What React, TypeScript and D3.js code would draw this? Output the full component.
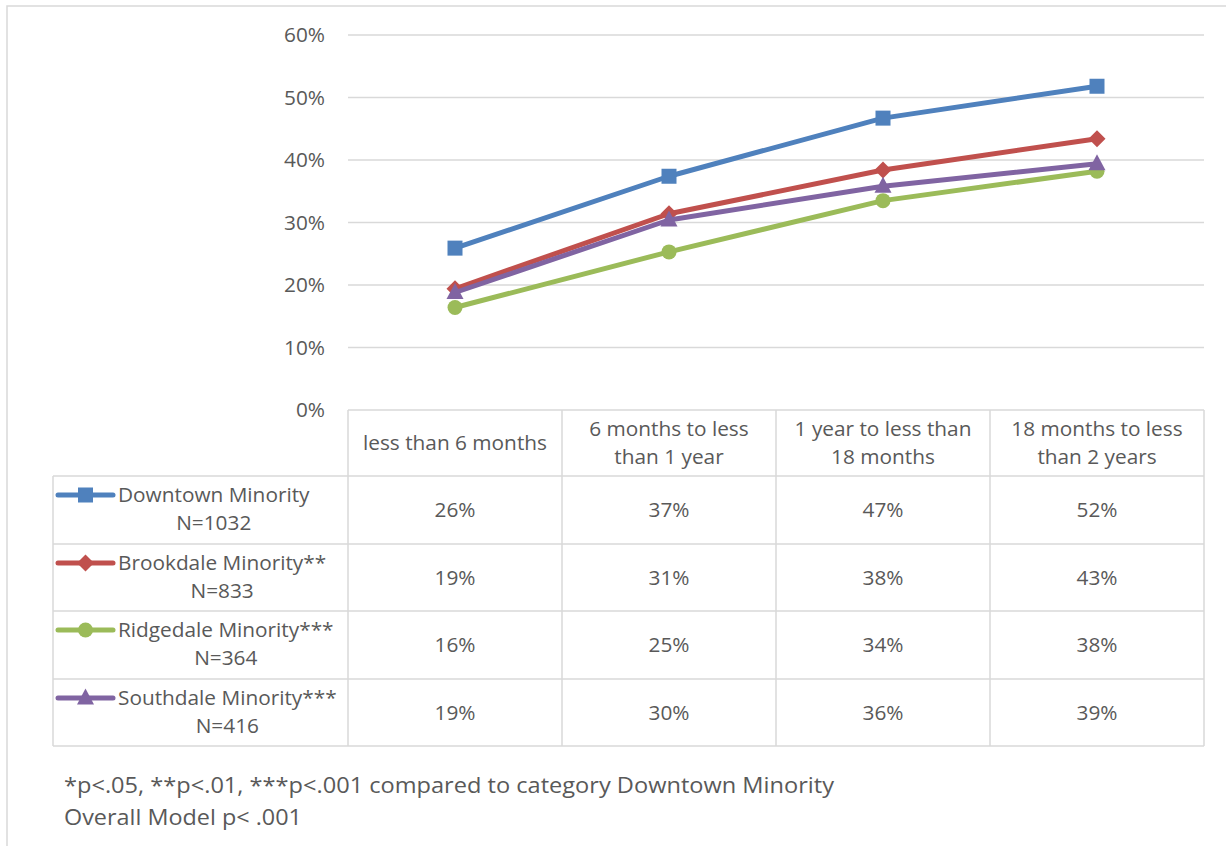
import React, { useLayoutEffect, useRef, useState } from "react";
import * as d3 from "d3";

const categories: string[][] = [
  ["less than 6 months"],
  ["6 months to less", "than 1 year"],
  ["1 year to less than", "18 months"],
  ["18 months to less", "than 2 years"],
];
const seriesNames = [
  ["Downtown Minority", "N=1032"],
  ["Brookdale Minority**", "N=833"],
  ["Ridgedale Minority***", "N=364"],
  ["Southdale Minority***", "N=416"],
];
const downtown = [25.9, 37.4, 46.7, 51.8];
const brookdale = [19.4, 31.4, 38.4, 43.4];
const ridgedale = [16.4, 25.3, 33.5, 38.2];
const southdale = [18.8, 30.4, 35.8, 39.4];
const yTicks = [0, 10, 20, 30, 40, 50, 60];
const footnotes = [
  "*p<.05, **p<.01, ***p<.001 compared to category Downtown Minority",
  "Overall Model p< .001",
];

const seriesData = [downtown, brookdale, ridgedale, southdale];
const colors = ["#4F81BD", "#C0504D", "#9BBB59", "#8064A2"];
const markers = ["square", "diamond", "circle", "triangle"];

const W = 1226;
const H = 846;
const plotLeft = 348;
const plotRight = 1204;
const tableLeft = 53;
const font = "'Open Sans', 'Noto Sans', sans-serif";
const textColor = "#595959";
const gridColor = "#D9D9D9";
const fs = 20.8;

function Marker({ type, x, y, color }: { type: string; x: number; y: number; color: string }) {
  if (type === "square") return <rect x={x - 7.5} y={y - 7.5} width={15} height={15} fill={color} />;
  if (type === "diamond")
    return <path d={`M${x},${y - 8.5}L${x + 8.5},${y}L${x},${y + 8.5}L${x - 8.5},${y}Z`} fill={color} />;
  if (type === "circle") return <circle cx={x} cy={y} r={7.5} fill={color} />;
  return <path d={`M${x},${y - 9.5}L${x + 8.5},${y + 6.5}L${x - 8.5},${y + 6.5}Z`} fill={color} />;
}

export default function App() {
  const y = d3.scaleLinear().domain([0, 60]).range([410, 35]);
  const x = d3
    .scaleBand<number>()
    .domain(categories.map((_, i) => i))
    .range([plotLeft, plotRight]);
  const cx = (i: number) => (x(i) as number) + x.bandwidth() / 2;
  const rowTops = [476, 544, 611, 679, 746];
  const line = d3
    .line<number>()
    .x((_, i) => cx(i))
    .y((d) => y(d));

  const nameRefs = useRef<(SVGTextElement | null)[]>([]);
  const [nameWidths, setNameWidths] = useState<number[]>(seriesNames.map((n) => n[0].length * 11));
  useLayoutEffect(() => {
    const w = nameRefs.current.map((el, i) => (el ? el.getComputedTextLength() : nameWidths[i]));
    setNameWidths(w);
  }, []);

  return (
    <svg
      width={W}
      height={H}
      style={{ position: "absolute", left: 0, top: 0, background: "#fff" }}
      fontFamily={font}
    >
      <rect x={7} y={6} width={1240} height={860} fill="none" stroke={gridColor} strokeWidth={1.5} />
      {yTicks.map((t) => (
        <g key={t}>
          {t > 0 && (
            <line x1={plotLeft} x2={plotRight} y1={y(t)} y2={y(t)} stroke={gridColor} strokeWidth={1.5} />
          )}
          <text x={325} y={y(t)} dy="0.35em" textAnchor="end" fontSize={fs} fill={textColor}>
            {t}%
          </text>
        </g>
      ))}
      <g stroke={gridColor} strokeWidth={1.5} fill="none">
        <line x1={plotLeft} x2={plotRight} y1={410} y2={410} />
        {rowTops.map((r) => (
          <line key={r} x1={tableLeft} x2={plotRight} y1={r} y2={r} />
        ))}
        <line x1={tableLeft} x2={tableLeft} y1={476} y2={746} />
        {categories.map((_, i) => (
          <line key={i} x1={x(i)} x2={x(i)} y1={410} y2={746} />
        ))}
        <line x1={plotRight} x2={plotRight} y1={410} y2={746} />
      </g>
      {categories.map((c, i) => (
        <text key={i} textAnchor="middle" fontSize={fs} fill={textColor}>
          {c.map((l, j) => (
            <tspan key={j} x={cx(i)} y={443 + (c.length === 1 ? 0 : (j - 0.5) * 28)} dy="0.35em">
              {l}
            </tspan>
          ))}
        </text>
      ))}
      {seriesData.map((s, si) => {
        const top = rowTops[si];
        const bottom = rowTops[si + 1];
        const mid = (top + bottom) / 2;
        return (
          <g key={si}>
            <line x1={58} x2={113} y1={top + 19} y2={top + 19} stroke={colors[si]} strokeWidth={5} strokeLinecap="round" />
            <Marker type={markers[si]} x={85.5} y={top + 19} color={colors[si]} />
            <text
              ref={(el) => {
                nameRefs.current[si] = el;
              }}
              x={118}
              y={top + 19}
              dy="0.35em"
              fontSize={fs}
              fill={textColor}
            >
              {seriesNames[si][0]}
            </text>
            <text
              x={118 + nameWidths[si] / 2}
              y={top + 47}
              dy="0.35em"
              fontSize={fs}
              fill={textColor}
              textAnchor="middle"
            >
              {seriesNames[si][1]}
            </text>
            {s.map((v, i) => (
              <text key={i} x={cx(i)} y={mid} dy="0.35em" fontSize={fs} fill={textColor} textAnchor="middle">
                {d3.format(".0f")(v)}%
              </text>
            ))}
          </g>
        );
      })}
      {seriesData.map((s, si) => (
        <g key={si}>
          <path d={line(s) || ""} fill="none" stroke={colors[si]} strokeWidth={5} strokeLinejoin="round" />
          {s.map((v, i) => (
            <Marker key={i} type={markers[si]} x={cx(i)} y={y(v)} color={colors[si]} />
          ))}
        </g>
      ))}
      {footnotes.map((f, i) => (
        <text key={i} x={64} y={785 + i * 32} dy="0.35em" fontSize={22.5} fill={textColor}
          textLength={i === 0 ? 770 : 238} lengthAdjust="spacingAndGlyphs">
          {f}
        </text>
      ))}
    </svg>
  );
}
